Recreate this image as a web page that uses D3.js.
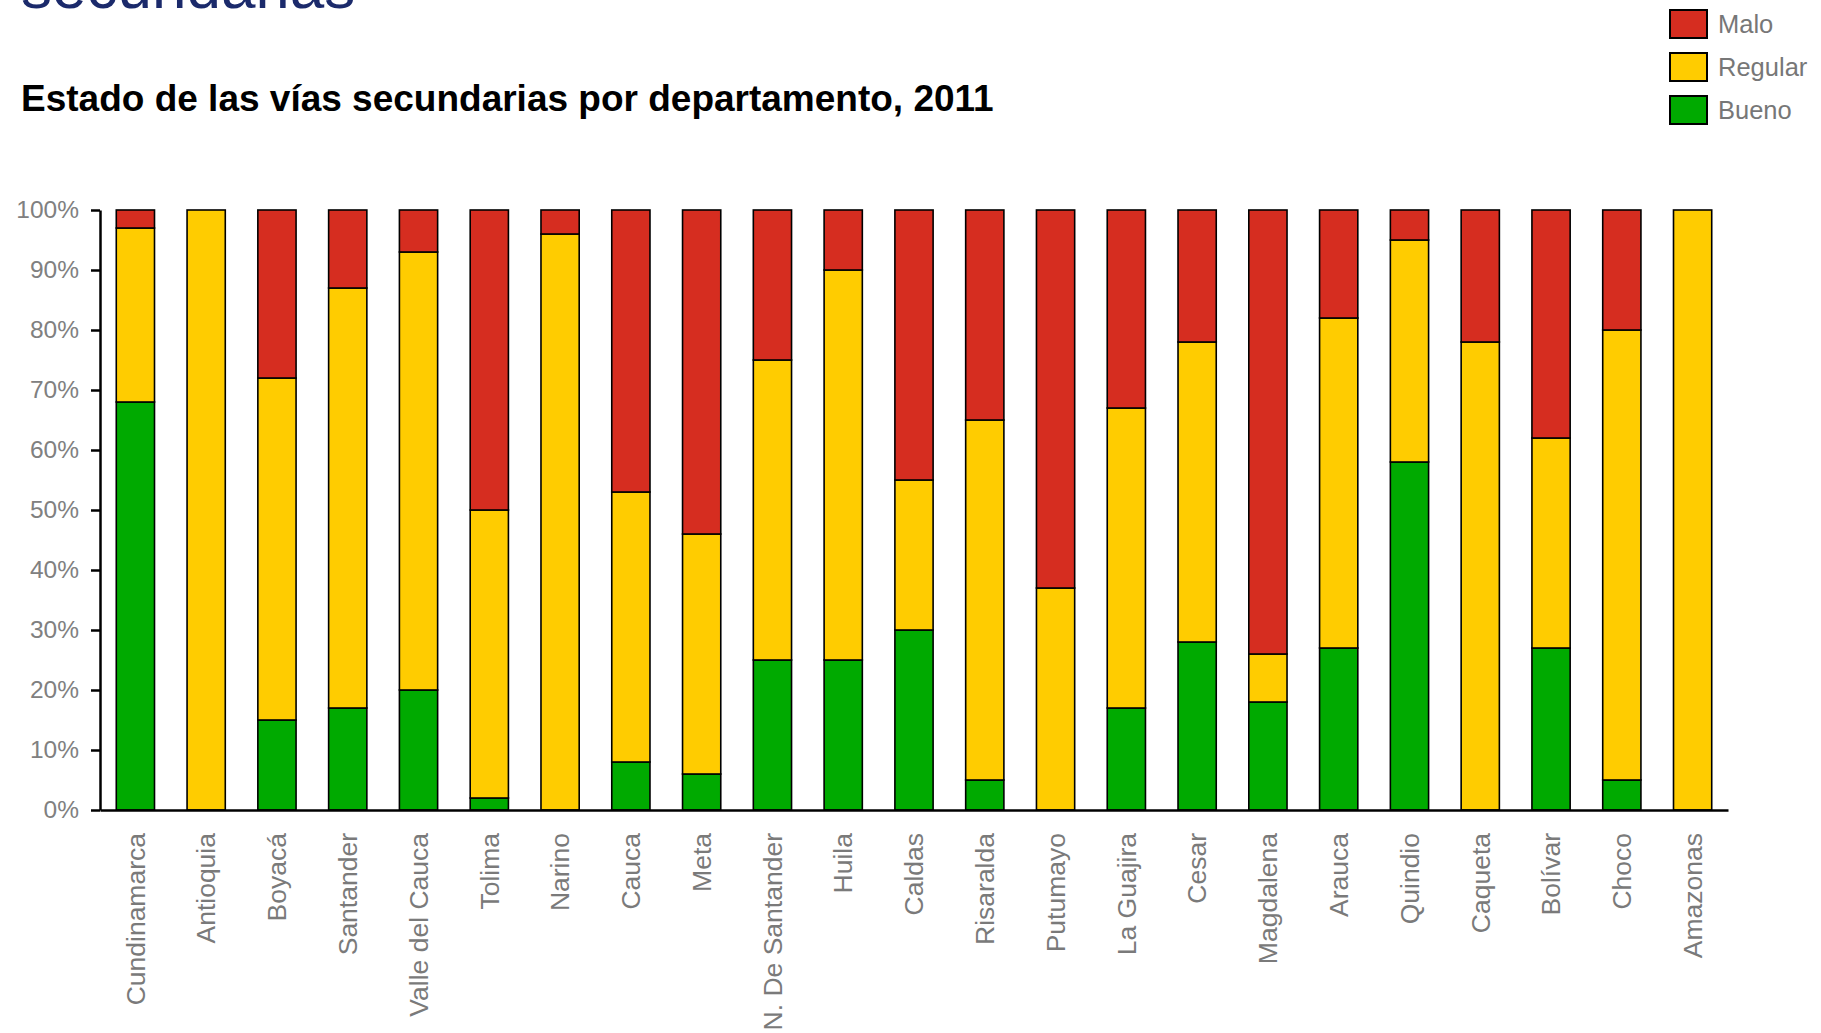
<!DOCTYPE html>
<html>
<head>
<meta charset="utf-8">
<script src="https://cdn.jsdelivr.net/npm/d3@7"></script>
<style>
  html, body { margin: 0; padding: 0; background: #fff; overflow: hidden; }
  svg { display: block; font-family: "Liberation Sans", Arial, sans-serif; }
</style>
</head>
<body>
<div id="chart"></div>
<script>
// Departments, in display order
const departamentos = ['Cundinamarca', 'Antioquia', 'Boyacá', 'Santander', 'Valle del Cauca', 'Tolima',
  'Narino', 'Cauca', 'Meta', 'N. De Santander', 'Huila', 'Caldas', 'Risaralda', 'Putumayo',
  'La Guajira', 'Cesar', 'Magdalena', 'Arauca', 'Quindio', 'Caqueta', 'Bolívar', 'Choco', 'Amazonas'];

// Percent of secondary roads per state
const bueno   = [68, 0, 15, 17, 20, 2, 0, 8, 6, 25, 25, 30, 5, 0, 17, 28, 18, 27, 58, 0, 27, 5, 0];
const regular = [29, 100, 57, 70, 73, 48, 96, 45, 40, 50, 65, 25, 60, 37, 50, 50, 8, 55, 37, 78, 35, 75, 100];
const malo    = [3, 0, 28, 13, 7, 50, 4, 47, 54, 25, 10, 45, 35, 63, 33, 22, 74, 18, 5, 22, 38, 20, 0];

const estados = ['Bueno', 'Regular', 'Malo'];
const yTicks = [0, 10, 20, 30, 40, 50, 60, 70, 80, 90, 100];

const colores = { Bueno: '#00AA00', Regular: '#FFCC00', Malo: '#D62D20' };

const width = 1821;
const height = 1033;
const margin = { left: 100, right: 93, top: 210, bottom: 223 };

const svg = d3.select('#chart').append('svg')
  .attr('width', width)
  .attr('height', height);

// Cut-off heading at the very top
svg.append('text')
  .attr('x', 21)
  .attr('y', 8)
  .attr('fill', '#1B2A6B')
  .attr('font-size', '62px')
  .text('secundarias');

svg.append('text')
  .attr('x', 21)
  .attr('y', 111)
  .attr('fill', '#000')
  .attr('font-size', '37px')
  .attr('font-weight', 'bold')
  .text('Estado de las vías secundarias por departamento, 2011');

// Build table for stacking
const rows = departamentos.map((d, i) => ({ dep: d, Bueno: bueno[i], Regular: regular[i], Malo: malo[i] }));
const series = d3.stack().keys(estados)(rows);

const x = d3.scaleBand()
  .domain(departamentos)
  .range([margin.left, width - margin.right])
  .paddingInner(0.46)
  .paddingOuter(0.23);

const y = d3.scaleLinear()
  .domain([0, 100])
  .range([height - margin.bottom, margin.top]);

// Bars
svg.append('g')
  .selectAll('g')
  .data(series)
  .join('g')
  .attr('fill', d => colores[d.key])
  .selectAll('rect')
  .data(d => d.filter(s => s[1] - s[0] > 0))
  .join('rect')
  .attr('x', d => x(d.data.dep))
  .attr('width', x.bandwidth())
  .attr('y', d => y(d[1]))
  .attr('height', d => y(d[0]) - y(d[1]))
  .attr('stroke', '#000')
  .attr('stroke-width', 1.6);

// Y axis
const yAxis = svg.append('g')
  .attr('transform', `translate(${margin.left},0)`)
  .call(d3.axisLeft(y).tickValues(yTicks).tickFormat(d => d + '%').tickSize(9).tickPadding(12).tickSizeOuter(0));
yAxis.select('.domain').attr('stroke', '#000').attr('stroke-width', 2.5);
yAxis.selectAll('.tick line').attr('stroke', '#000').attr('stroke-width', 2.5);
yAxis.selectAll('.tick text')
  .attr('fill', '#808080')
  .attr('font-size', '24.5px')
  .attr('font-family', '"Liberation Sans", Arial, sans-serif');

// X axis
const xAxis = svg.append('g')
  .attr('transform', `translate(0,${height - margin.bottom})`)
  .call(d3.axisBottom(x).tickSize(0).tickSizeOuter(0).tickPadding(0));
xAxis.select('.domain').attr('stroke', '#000').attr('stroke-width', 2.5);
xAxis.selectAll('.tick text')
  .attr('fill', '#7A7A7A')
  .attr('font-size', '26.5px')
  .attr('font-family', '"Liberation Sans", Arial, sans-serif')
  .attr('transform', 'rotate(-90)')
  .attr('text-anchor', 'end')
  .attr('x', -23)
  .attr('y', 0)
  .attr('dy', '0.35em');

// Legend
const legendOrder = ['Malo', 'Regular', 'Bueno'];
const legend = svg.append('g')
  .selectAll('g')
  .data(legendOrder)
  .join('g')
  .attr('transform', (d, i) => `translate(1670,${10 + i * 43})`);

legend.append('rect')
  .attr('width', 37)
  .attr('height', 28)
  .attr('fill', d => colores[d])
  .attr('stroke', '#000')
  .attr('stroke-width', 2);

legend.append('text')
  .attr('x', 48)
  .attr('y', 14)
  .attr('dy', '0.35em')
  .attr('fill', '#777')
  .attr('font-size', '25.5px')
  .text(d => d);
</script>
</body>
</html>
